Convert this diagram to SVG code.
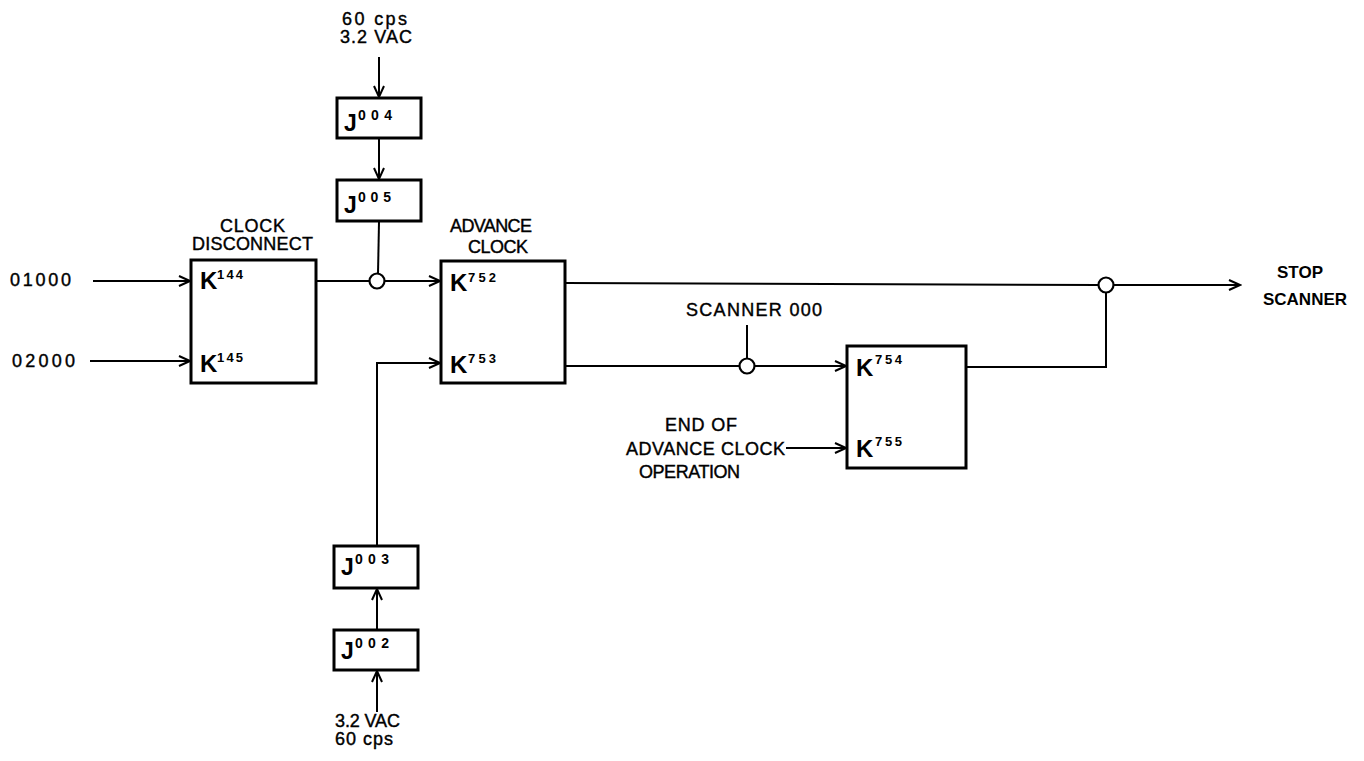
<svg xmlns="http://www.w3.org/2000/svg" width="1364" height="761" viewBox="0 0 1364 761">
<defs>
<style>
.bg{fill:#fff}
.box{fill:#fff;stroke:#000;stroke-width:3}
.ln{fill:none;stroke:#000;stroke-width:2}
.dot{fill:#fff;stroke:#000;stroke-width:2.2}
.lbl{font-family:"Liberation Sans",Arial,sans-serif;font-size:18px;fill:#000;stroke:#000;stroke-width:0.4}
.bold{font-family:"Liberation Sans",Arial,sans-serif;font-size:17px;font-weight:bold;fill:#000}
.k{font-family:"Liberation Sans",Arial,sans-serif;font-size:24px;font-weight:bold;fill:#000}
.j{font-family:"Liberation Sans",Arial,sans-serif;font-size:23px;font-weight:bold;fill:#000}
.sup{font-family:"Liberation Sans",Arial,sans-serif;font-size:13px;font-weight:bold;fill:#000}
.supj{font-family:"Liberation Sans",Arial,sans-serif;font-size:14px;font-weight:bold;fill:#000}
</style>
<marker id="arr" markerUnits="userSpaceOnUse" markerWidth="14" markerHeight="14" refX="12" refY="6" orient="auto">
<path d="M1,1 L12,6 L1,11" fill="none" stroke="#000" stroke-width="2"/>
</marker>
</defs>
<rect class="bg" width="1364" height="761"/>

<g id="connectors">
<line class="ln" x1="93" y1="281" x2="190" y2="281" marker-end="url(#arr)"/>
<line class="ln" x1="90" y1="361" x2="190" y2="361" marker-end="url(#arr)"/>
<line class="ln" x1="379" y1="57" x2="379" y2="97" marker-end="url(#arr)"/>
<line class="ln" x1="379" y1="138" x2="379" y2="179" marker-end="url(#arr)"/>
<line class="ln" x1="379" y1="222" x2="378" y2="274"/>
<line class="ln" x1="317" y1="281" x2="370" y2="281"/>
<line class="ln" x1="385" y1="281" x2="440" y2="281" marker-end="url(#arr)"/>
<polyline class="ln" points="377,545 377,363 440,363" marker-end="url(#arr)"/>
<line class="ln" x1="377" y1="630" x2="377" y2="589" marker-end="url(#arr)"/>
<line class="ln" x1="377" y1="712" x2="377" y2="671" marker-end="url(#arr)"/>
<line class="ln" x1="566" y1="283" x2="1098" y2="285"/>
<line class="ln" x1="1114" y1="285" x2="1240" y2="285" marker-end="url(#arr)"/>
<line class="ln" x1="566" y1="366" x2="739" y2="366"/>
<line class="ln" x1="755" y1="366" x2="846" y2="366" marker-end="url(#arr)"/>
<line class="ln" x1="747" y1="325" x2="747" y2="358"/>
<polyline class="ln" points="967,367 1106,367 1106,293"/>
<line class="ln" x1="786" y1="448" x2="846" y2="448" marker-end="url(#arr)"/>
<circle class="dot" cx="377" cy="281" r="7.5"/>
<circle class="dot" cx="747" cy="366" r="7.5"/>
<circle class="dot" cx="1106" cy="285" r="7.5"/>
</g>

<g id="in-01000"><text class="lbl" x="10" y="286" textLength="61">01000</text></g>
<g id="in-02000"><text class="lbl" x="12" y="367" textLength="63">02000</text></g>

<g id="src-top">
<text class="lbl" x="342" y="25" textLength="65">60 cps</text>
<text class="lbl" x="340" y="43" textLength="72">3.2 VAC</text>
</g>
<g id="src-bottom">
<text class="lbl" x="335" y="727" textLength="65">3.2 VAC</text>
<text class="lbl" x="335" y="745" textLength="58">60 cps</text>
</g>

<g id="J004">
<rect class="box" x="337" y="98" width="84" height="40"/>
<text class="j" x="344" y="131">J</text><text class="supj" x="358" y="120" textLength="34">004</text>
</g>
<g id="J005">
<rect class="box" x="337" y="180" width="84" height="41"/>
<text class="j" x="344" y="213">J</text><text class="supj" x="358" y="202" textLength="33">005</text>
</g>
<g id="J003">
<rect class="box" x="334" y="546" width="84" height="42"/>
<text class="j" x="341" y="575">J</text><text class="supj" x="355" y="564" textLength="34">003</text>
</g>
<g id="J002">
<rect class="box" x="334" y="630" width="84" height="40"/>
<text class="j" x="341" y="659">J</text><text class="supj" x="355" y="648" textLength="34">002</text>
</g>

<g id="clock-disconnect">
<text class="lbl" x="220" y="232" textLength="65">CLOCK</text>
<text class="lbl" x="192" y="250" textLength="121">DISCONNECT</text>
<rect class="box" x="191" y="260" width="125" height="123"/>
<text class="k" x="200" y="289">K</text><text class="sup" x="217" y="279" textLength="26">144</text>
<text class="k" x="200" y="372">K</text><text class="sup" x="217" y="362" textLength="26">145</text>
</g>

<g id="advance-clock">
<text class="lbl" x="450" y="232" textLength="82">ADVANCE</text>
<text class="lbl" x="468" y="253" textLength="60">CLOCK</text>
<rect class="box" x="441" y="261" width="124" height="122"/>
<text class="k" x="450" y="291">K</text><text class="sup" x="468" y="282" textLength="28">752</text>
<text class="k" x="450" y="373">K</text><text class="sup" x="468" y="363" textLength="28">753</text>
</g>

<g id="scanner-000"><text class="lbl" x="686" y="316" textLength="136">SCANNER 000</text></g>

<g id="end-of-advance">
<text class="lbl" x="665" y="431" textLength="72">END OF</text>
<text class="lbl" x="626" y="455" textLength="159">ADVANCE CLOCK</text>
<text class="lbl" x="639" y="478" textLength="101">OPERATION</text>
</g>

<g id="K754-755">
<rect class="box" x="847" y="346" width="119" height="122"/>
<text class="k" x="856" y="376">K</text><text class="sup" x="875" y="364" textLength="27">754</text>
<text class="k" x="856" y="457">K</text><text class="sup" x="875" y="446" textLength="27">755</text>
</g>

<g id="stop-scanner">
<text class="bold" x="1300" y="278" text-anchor="middle">STOP</text>
<text class="bold" x="1305" y="305" text-anchor="middle">SCANNER</text>
</g>
</svg>
